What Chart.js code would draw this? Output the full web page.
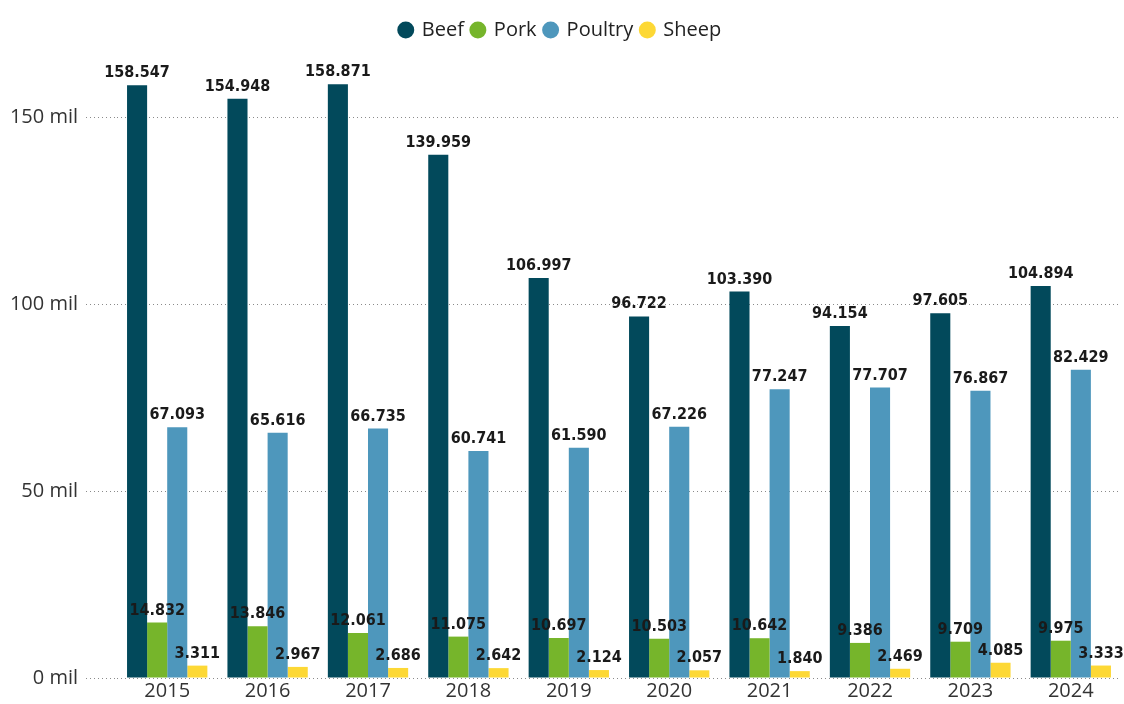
<!DOCTYPE html>
<html>
<head>
<meta charset="utf-8">
<script src="https://cdn.jsdelivr.net/npm/chart.js@4.4.1/dist/chart.umd.min.js"></script>
<style>
  html, body { margin: 0; padding: 0; background: #ffffff; }
  #wrap { width: 1124px; height: 704px; position: relative; }
</style>
</head>
<body>
<div id="wrap"><canvas id="chart"></canvas></div>
<script>
// ── Data ─────────────────────────────────────────────
const years = ['2015', '2016', '2017', '2018', '2019', '2020', '2021', '2022', '2023', '2024'];
const beef = [158547, 154948, 158871, 139959, 106997, 96722, 103390, 94154, 97605, 104894];
const pork = [14832, 13846, 12061, 11075, 10697, 10503, 10642, 9386, 9709, 9975];
const poultry = [67093, 65616, 66735, 60741, 61590, 67226, 77247, 77707, 76867, 82429];
const sheep = [3311, 2967, 2686, 2642, 2124, 2057, 1840, 2469, 4085, 3333];
const yTicks = [0, 50000, 100000, 150000];

const fmt = v => String(v).replace(/\B(?=(\d{3})+(?!\d))/g, '.');

// ── Value labels above each bar ──────────────────────
const barLabels = {
    id: 'barLabels',
    afterDatasetsDraw(chart) {
        const ctx = chart.ctx;
        ctx.save();
        ctx.font = 'bold 16px "DejaVu Sans Condensed", "DejaVu Sans", sans-serif';
        ctx.fillStyle = '#1a1a1a';
        ctx.textAlign = 'center';
        ctx.textBaseline = 'alphabetic';
        chart.data.datasets.forEach((ds, i) => {
            const meta = chart.getDatasetMeta(i);
            meta.data.forEach((bar, j) => {
                ctx.fillText(fmt(ds.data[j]), bar.x, bar.y - 8);
            });
        });
        ctx.restore();
    }
};

const axisFont = { family: '"Open Sans", "Noto Sans", sans-serif', size: 20 };

new Chart(document.getElementById('chart'), {
    type: 'bar',
    data: {
        labels: years,
        datasets: [
            { label: 'Beef', data: beef, backgroundColor: '#02495B' },
            { label: 'Pork', data: pork, backgroundColor: '#76B52B' },
            { label: 'Poultry', data: poultry, backgroundColor: '#4E97BC' },
            { label: 'Sheep', data: sheep, backgroundColor: '#FDD835' },
        ],
    },
    options: {
        responsive: true,
        maintainAspectRatio: false,
        animation: false,
        layout: { padding: { top: 12, right: 3, bottom: 0, left: 0 } },
        datasets: { bar: { categoryPercentage: 0.8, barPercentage: 1.0 } },
        plugins: {
            tooltip: { enabled: false },
            legend: {
                position: 'top',
                align: 'center',
                labels: {
                    usePointStyle: true,
                    pointStyle: 'circle',
                    boxWidth: 12,
                    boxHeight: 12,
                    padding: 8,
                    color: '#222222',
                    font: { family: '"Open Sans", "Noto Sans", sans-serif', size: 20 },
                },
            },
        },
        scales: {
            x: {
                grid: { display: false, drawTicks: false },
                border: { display: false },
                ticks: { color: '#333333', font: { ...axisFont, lineHeight: 1.0 }, padding: 3 },
            },
            y: {
                min: 0,
                max: 168000,
                afterBuildTicks: axis => { axis.ticks = yTicks.map(v => ({ value: v })); },
                afterFit: axis => { axis.width = 117; },
                border: { display: false, dash: [1, 3] },
                grid: {
                    color: '#8a8a8a',
                    lineWidth: 1,
                    drawTicks: true,
                    tickLength: 31,
                    tickColor: '#8a8a8a',
                    tickBorderDash: [1, 3],
                },
                ticks: {
                    color: '#333333',
                    font: axisFont,
                    padding: 8,
                    callback: v => (v / 1000) + ' mil',
                },
            },
        },
    },
    plugins: [barLabels],
});
</script>
</body>
</html>
